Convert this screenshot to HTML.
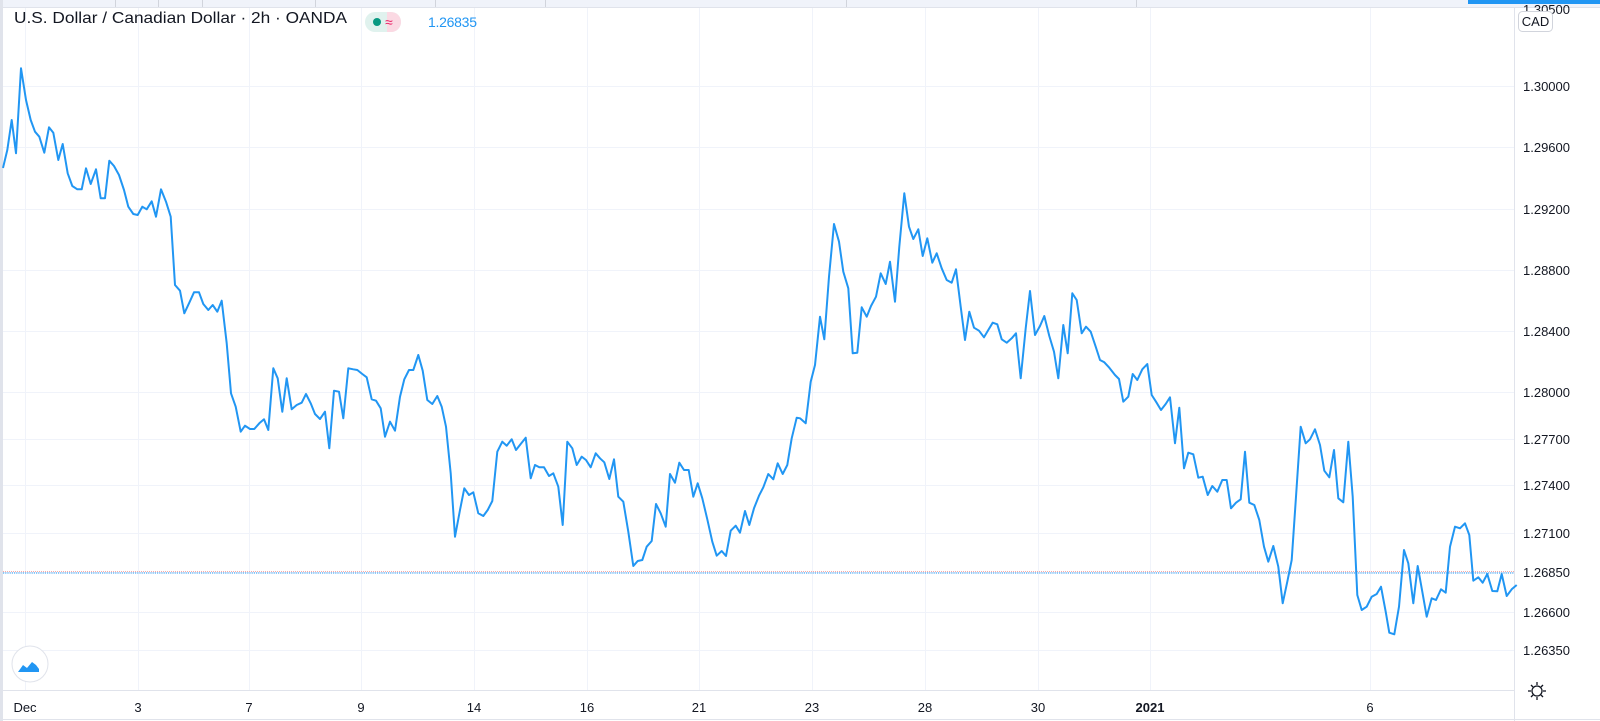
<!DOCTYPE html>
<html><head><meta charset="utf-8"><style>
html,body{margin:0;padding:0;background:#fff;width:1600px;height:721px;overflow:hidden;font-family:"Liberation Sans",sans-serif;}
</style></head><body>
<svg id="s" width="1600" height="721" xmlns="http://www.w3.org/2000/svg" style="position:absolute;left:0;top:0">
<rect x="0" y="0" width="1600" height="721" fill="#fff"/>
<rect x="0" y="0" width="1600" height="7" fill="#f0f3fa"/>
<line x1="0" y1="7.5" x2="1600" y2="7.5" stroke="#e0e3eb"/>
<g stroke="#d1d4dc"><line x1="115.5" y1="0" x2="115.5" y2="7"/><line x1="158.5" y1="0" x2="158.5" y2="7"/><line x1="202.5" y1="0" x2="202.5" y2="7"/><line x1="315.5" y1="0" x2="315.5" y2="7"/><line x1="435.5" y1="0" x2="435.5" y2="7"/><line x1="545.5" y1="0" x2="545.5" y2="7"/><line x1="846.5" y1="0" x2="846.5" y2="7"/><line x1="1136.5" y1="0" x2="1136.5" y2="7"/></g>
<rect x="1468" y="0" width="132" height="4" fill="#2196f3"/>
<rect x="0" y="0" width="3" height="721" fill="#e0e3eb"/>
<g id="grid" stroke="#f0f3fa" stroke-width="1"></g>
<line x1="3" y1="690.5" x2="1514" y2="690.5" stroke="#e0e3eb"/>
<line x1="1514.5" y1="7" x2="1514.5" y2="721" stroke="#e0e3eb"/>
<line x1="0" y1="719.5" x2="1600" y2="719.5" stroke="#e0e3eb"/>
<line x1="3" y1="571.5" x2="1514" y2="571.5" stroke="#f7a9a7" stroke-dasharray="1 1"/>
<line x1="3" y1="573" x2="1514" y2="573" stroke="#2196f3" stroke-dasharray="1.2 1"/>
<polyline id="pl" fill="none" stroke="#2196f3" stroke-width="2" stroke-linejoin="round"/>
<g id="lab" font-size="13" fill="#131722"></g>
<text x="14" y="23" font-size="16" fill="#131722" textLength="333" lengthAdjust="spacingAndGlyphs">U.S. Dollar / Canadian Dollar · 2h · OANDA</text>
<rect x="365" y="12" width="36" height="20" rx="10" fill="#e0f2ee"/>
<path d="M387 12 h4 a10 10 0 0 1 0 20 h-4 z" fill="#fbd9e3"/>
<circle cx="377" cy="22" r="4" fill="#089981"/>
<text x="385" y="27" font-size="14" fill="#e91e63">≈</text>
<text x="428" y="27" font-size="14" fill="#2196f3" textLength="49">1.26835</text>
<rect x="1518.5" y="11.5" width="34" height="20" rx="4" fill="#fff" stroke="#d1d4dc"/>
<text x="1535.5" y="26" font-size="13" fill="#131722" text-anchor="middle">CAD</text>
<circle cx="30" cy="664" r="18" fill="#fff" stroke="#e0e3eb"/>
<path d="M18 672 l5 -7 l4 3 l5 -6 l4 3 l3 4 v3 z" fill="#2196f3"/>
<path d="M18 668 l5 -6 l4 4 l5 -6 l7 5" fill="none" stroke="#fff" stroke-width="1.5"/>
<circle cx="1537" cy="691" r="5" fill="none" stroke="#131722" stroke-width="1.3"/>
<g stroke="#131722" stroke-width="1.3"><line x1="1537" y1="682" x2="1537" y2="685"/><line x1="1537" y1="697" x2="1537" y2="700"/><line x1="1528" y1="691" x2="1531" y2="691"/><line x1="1543" y1="691" x2="1546" y2="691"/><line x1="1531" y1="685" x2="1533" y2="687"/><line x1="1541" y1="695" x2="1543" y2="697"/><line x1="1543" y1="685" x2="1541" y2="687"/><line x1="1533" y1="695" x2="1531" y2="697"/></g>
</svg>
<script>
var NS="http://www.w3.org/2000/svg";
function el(t,a,p,txt){var e=document.createElementNS(NS,t);for(var k in a)e.setAttribute(k,a[k]);if(txt)e.textContent=txt;p.appendChild(e);return e;}
var g=document.getElementById('grid'),lab=document.getElementById('lab');
var ys=[[9,"1.30500"],[86,"1.30000"],[147,"1.29600"],[209,"1.29200"],[270,"1.28800"],[331,"1.28400"],[392,"1.28000"],[439,"1.27700"],[485,"1.27400"],[533,"1.27100"],[572,"1.26850"],[612,"1.26600"],[650,"1.26350"]];
ys.forEach(function(v){if(v[0]>20)el('line',{x1:3,x2:1514,y1:v[0]+.5,y2:v[0]+.5},g);el('text',{x:1523,y:v[0]+5},lab,v[1]);});
var xs=[[25,"Dec"],[138,"3"],[249,"7"],[361,"9"],[474,"14"],[587,"16"],[699,"21"],[812,"23"],[925,"28"],[1038,"30"],[1150,"2021"],[1370,"6"]];
xs.forEach(function(v){el('line',{x1:v[0]+.5,x2:v[0]+.5,y1:8,y2:690},g);el('text',{x:v[0],y:712,'text-anchor':'middle','font-weight':v[1]=="2021"?"bold":"normal"},lab,v[1]);});
var segs=[
[0,60,[10,320,22,270,35,180,48,280,63,25,78,120,92,180,105,215,118,230,133,278,147,202,160,218,175,300,188,252,203,340,217,378,232,388,245,388,258,325,272,372,288,328,302,415,315,415,328,302,342,318,357,345,372,390,385,440,400,462,413,465,427,440,440,448,455,424,468,470,483,388,498,425,512,470,525,675,540,692,553,760,568,728,582,697,597,697,610,732,625,750,638,735,652,755,665,722,680,850,693,1000,707,1040,722,1115,735,1097,750,1107,763,1107,778,1090,792,1078,805,1110,820,925,833,955,847,1055,860,955,875,1048,890,1035,905,1028,918,1002,932,1030,945,1062,960,1077,975,1055,988,1165,1002,992,1017,995,1030,1075,1045,925,1060,928,1072,930,1087,942,1100,952,1115,1018,1128,1022,1142,1045,1155,1130,1170,1085,1185,1112,1200,1010,1213,958,1227,930,1240,930,1255,885,1268,932,1282,1020,1297,1032,1312,1008,1325,1040,1338,1100]],
[400,180,[152,880,165,1070,180,990,193,925,207,945,220,937,235,1000,250,1008,263,990,277,963,292,815,307,785,320,797,335,778,348,810,362,792,377,773,392,895,405,855,418,862,432,862,447,888,460,880,475,920,488,1035,502,785,517,805,530,855,545,830,558,840,572,862,587,820,600,835,613,847,628,897,642,838,655,950,670,965,685,1055,700,1158,713,1143,727,1140,740,1100,755,1083,768,972,782,1000,797,1040,810,882,825,908,838,848,852,870,866,870,880,950,893,910,907,955,922,1018,937,1085,950,1127,965,1113,978,1128,992,1052,1007,1037,1020,1058,1035,993,1048,1035,1062,985,1077,947,1090,922,1105,882,1120,898,1133,850,1148,882,1162,855,1175,775,1190,713]],
[800,180,[0,715,17,730,32,605,45,555,60,410,73,478,87,290,102,132,117,185,130,275,145,325,158,520,172,518,185,382,200,410,213,378,228,350,242,280,257,312,270,245,285,365,298,200,313,40,327,140,340,177,355,148,368,228,382,175,397,248,410,220,425,265,440,300,455,308,468,268,482,380,495,480,508,395,522,443,537,452,552,472,565,450,578,428,592,433,605,478,620,488,635,475,648,460,662,595,677,445,690,333,705,465,720,438,733,408,748,468,762,515,775,595,790,435,803,520,817,340,830,360,845,460,858,440,872,455,887,500,900,540,913,547,928,563,945,585,957,597,970,665,985,650,998,582,1012,600,1027,568,1042,552,1055,645,1068,665,1083,690,1097,672,1110,652,1125,790,1138,683,1152,865,1165,818,1180,823,1195,893]],
[1150,380,[158,290,173,345,187,318,202,335,217,300,230,300,243,385,258,368,272,358,285,215,298,368,313,375,328,420,342,500,355,545,370,498,385,560,398,670,412,605,425,540,438,350,452,140,467,190,480,178,495,148,510,195,523,272,538,292,552,210,565,355,580,367,595,185,608,350,622,645,635,690,650,680,665,650,680,642,693,620,707,695]],
[1300,540,[268,278,283,283,297,200,312,30,325,70,340,190,353,78,367,155,380,230,395,175,408,180,423,148,437,158,450,20]],
[1150,380,[915,440,930,445,945,430,958,465]],
[1300,540,[520,122,535,112,548,128,562,102,577,153,592,154,605,102,620,168,635,148,650,135]]
];
var pts=["3,168"];
segs.forEach(function(s){var a=s[2];for(var i=0;i<a.length;i+=2){pts.push((a[i]/3+s[0]).toFixed(1)+","+(a[i+1]/3+s[1]).toFixed(1));}});
document.getElementById('pl').setAttribute('points',pts.join(' '));
</script>
</body></html>
